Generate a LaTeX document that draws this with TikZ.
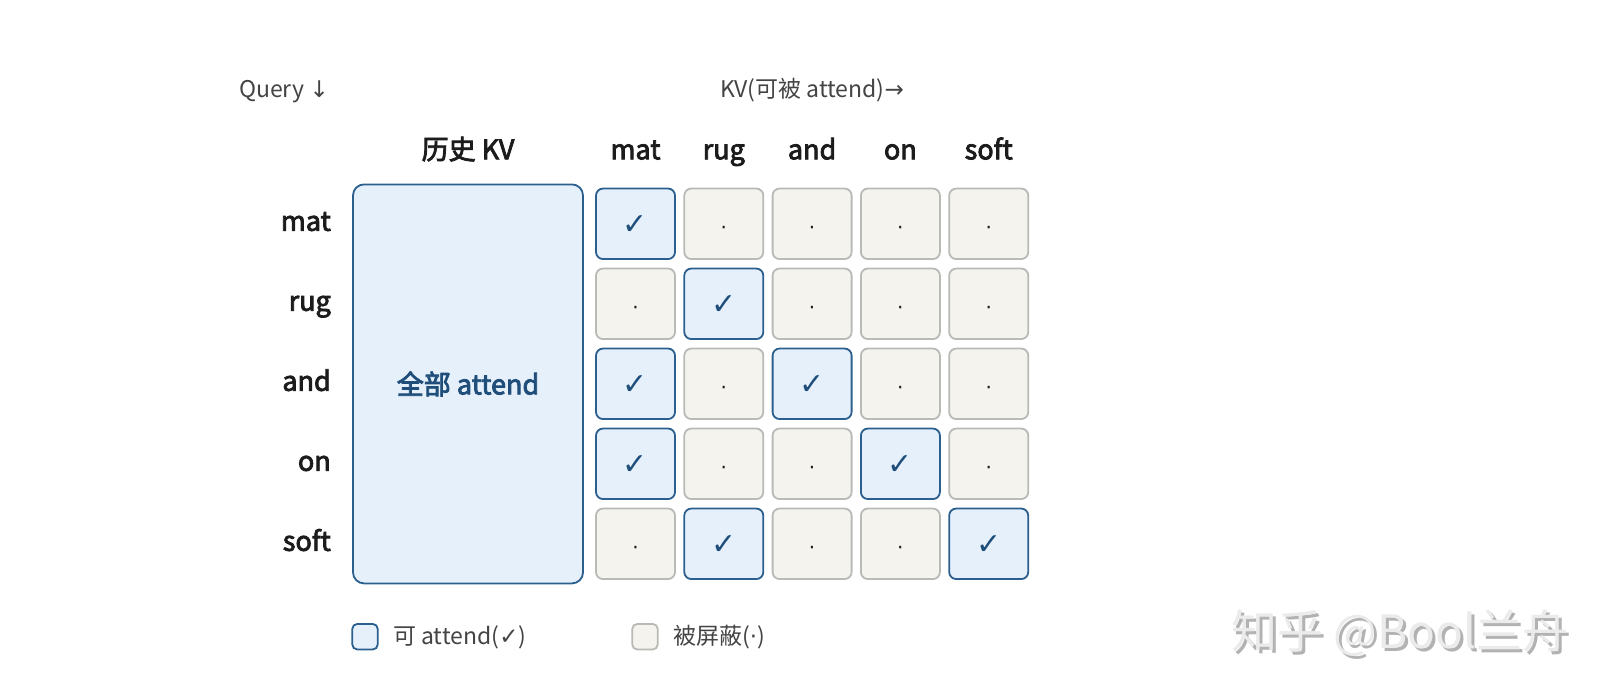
\documentclass[tikz,border=0pt]{standalone}
\usepackage{fontspec}
\setmainfont{Noto Sans CJK SC}
\newfontfamily\mittel[FakeBold=3]{Noto Sans CJK SC}
\newfontfamily\symfont{DejaVu Sans}
\definecolor{blaurand}{HTML}{2B5F8E}
\definecolor{blaufill}{HTML}{E5F0FB}
\definecolor{blautext}{HTML}{1F4E7A}
\definecolor{graurand}{HTML}{B9B9B6}
\definecolor{graufill}{HTML}{F4F3EE}
\definecolor{schrift}{HTML}{1C1C1C}
\definecolor{hschrift}{HTML}{444444}
\tikzset{
  offen/.style={draw=blaurand,fill=blaufill,line width=1.8pt,rounded corners=7pt,
    minimum width=79pt,minimum height=70.5pt,inner sep=0pt,text=blautext,
    font=\symfont\fontsize{30}{30}\selectfont,text height=22pt,text depth=0pt},
  maske/.style={draw=graurand,fill=graufill,line width=1.8pt,rounded corners=7pt,
    minimum width=79pt,minimum height=70.5pt,inner sep=0pt,text=schrift,
    font=\symfont\fontsize{20}{20}\selectfont,text height=21pt,text depth=0pt},
  kopf/.style={font=\mittel\fontsize{27}{30}\selectfont,text=schrift,inner sep=0pt,
    text height=20pt,text depth=5.4pt},
  hinweis/.style={font=\fontsize{23}{26}\selectfont,text=hschrift,inner sep=0pt,
    text height=17pt,text depth=4.6pt},
  legbox/.style={line width=1.8pt,rounded corners=5pt,minimum size=25.5pt,inner sep=0pt},
}

\begin{document}
\begin{tikzpicture}[x=1pt,y=-1pt]
  \useasboundingbox[fill=white] (0,0) rectangle (1622,696);
  % Achsenhinweise
  \node[hinweis,anchor=west] (qlab) at (239,91) {Query {\symfont↓}};
  \node[hinweis] (kvlab) at (812,91) {KV(可被 attend){\symfont→}};
  % historischer Block
  \node[kopf] (hist) at (468,152) {历史 KV};
  \node[draw=blaurand,fill=blaufill,line width=1.8pt,rounded corners=11pt,
    minimum width=230pt,minimum height=399pt,inner sep=0pt,
    font=\mittel\fontsize{27}{30}\selectfont,text=blautext] (alle) at (468,383.9) {全部 attend};
  % Spaltenkoepfe
  \foreach \c/\w in {1/mat,2/rug,3/and,4/on,5/soft}
    \node[kopf] (k\c) at ({635.5+88.3*(\c-1)},152) {\w};
  % Zeilen (1 = sichtbar, 0 = maskiert)
  \foreach \r/\w/\a/\b/\e/\f/\g in {1/mat/1/0/0/0/0,2/rug/0/1/0/0/0,3/and/1/0/1/0/0,
      4/on/1/0/0/1/0,5/soft/0/1/0/0/1}{
    \node[kopf,anchor=east] (q\r) at (331,{223.5+80*(\r-1)}) {\w};
    \foreach \c/\bit in {1/\a,2/\b,3/\e,4/\f,5/\g}{
      \ifnum\bit=1
        \node[offen] (z\r\c) at ({635.5+88.3*(\c-1)},{223.8+80*(\r-1)}) {✓};
      \else
        \node[maske] (z\r\c) at ({635.5+88.3*(\c-1)},{223.8+80*(\r-1)}) {·};
      \fi
    }
  }
  % Legende
  \node[legbox,draw=blaurand,fill=blaufill] (leg1) at (365,636.7) {};
  \node[hinweis,anchor=west] (legt1) at (393,638.5) {可 attend({\symfont✓})};
  \node[legbox,draw=graurand,fill=graufill] (leg2) at (645,636.7) {};
  \node[hinweis,anchor=west] (legt2) at (673,638.5) {被屏蔽({\symfont·})};
  % Wasserzeichen
  \node[font=\fontsize{46}{50}\selectfont,text=black!30] at (1403,636) {知乎 @Bool兰舟};
  \node[font=\fontsize{46}{50}\selectfont,text=black!8] (wz) at (1400,633) {知乎 @Bool兰舟};
\end{tikzpicture}
\end{document}
